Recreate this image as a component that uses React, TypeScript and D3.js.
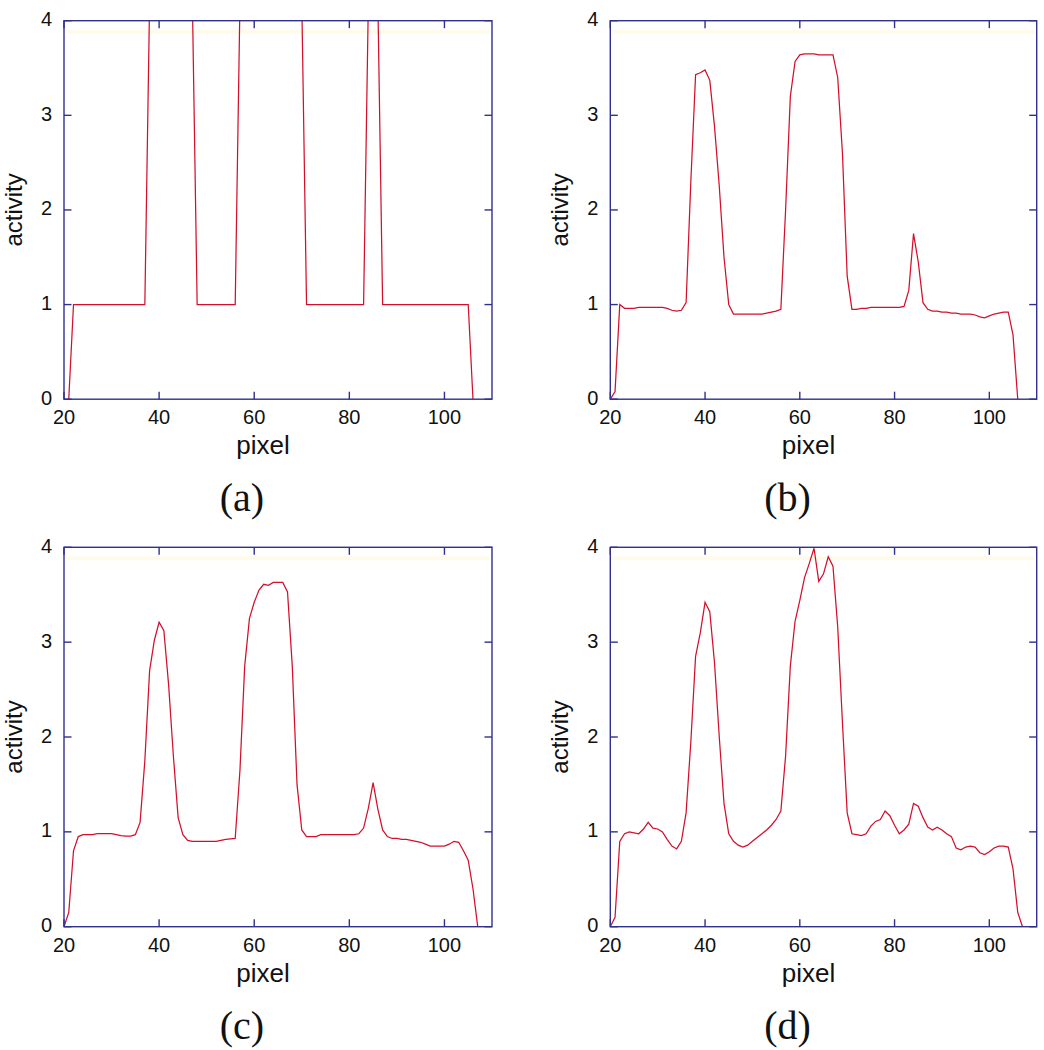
import * as d3 from 'd3';

// pixel index of the first sample of each profile
const startA = 21;
const startB = 20;
const startC = 20;
const startD = 20;

// (a) thresholded profile, peaks run off the top of the axes
const activityA = [
  0,
  1, 1, 1, 1, 1, 1, 1, 1, 1, 1, 1, 1, 1, 1, 1, 1,
  4.2, 4.2, 4.2, 4.2, 4.2, 4.2, 4.2, 4.2, 4.2, 4.2,
  1, 1, 1, 1, 1, 1, 1, 1, 1,
  4.2, 4.2, 4.2, 4.2, 4.2, 4.2, 4.2, 4.2, 4.2, 4.2, 4.2, 4.2, 4.2, 4.2,
  1, 1, 1, 1, 1, 1, 1, 1, 1, 1, 1, 1, 1,
  4.2, 4.2, 4.2,
  1, 1, 1, 1, 1, 1, 1, 1, 1, 1, 1, 1, 1, 1, 1, 1, 1, 1, 1,
  0,
];

const activityB = [
  0, 0.08, 1.0, 0.96, 0.96, 0.96, 0.97, 0.97, 0.97, 0.97,
  0.97, 0.97, 0.96, 0.94, 0.93, 0.94, 1.02, 2.3, 3.43, 3.45,
  3.48, 3.37, 2.88, 2.25, 1.5, 1.0, 0.9, 0.9, 0.9, 0.9,
  0.9, 0.9, 0.9, 0.91, 0.92, 0.93, 0.95, 2.0, 3.2, 3.57,
  3.64, 3.65, 3.65, 3.65, 3.64, 3.64, 3.64, 3.64, 3.4, 2.6,
  1.3, 0.95, 0.95, 0.96, 0.96, 0.97, 0.97, 0.97, 0.97, 0.97,
  0.97, 0.97, 0.98, 1.15, 1.75, 1.45, 1.02, 0.95, 0.93, 0.93,
  0.92, 0.92, 0.91, 0.91, 0.9, 0.9, 0.9, 0.89, 0.87, 0.86,
  0.88, 0.9, 0.91, 0.92, 0.92, 0.68, 0.0,
];

const activityC = [
  0, 0.15, 0.8, 0.95, 0.97, 0.97, 0.97, 0.98, 0.98, 0.98,
  0.98, 0.97, 0.96, 0.955, 0.955, 0.97, 1.1, 1.75, 2.7, 3.02,
  3.21, 3.12, 2.55, 1.8, 1.15, 0.97, 0.91, 0.9, 0.9, 0.9,
  0.9, 0.9, 0.9, 0.91, 0.92, 0.925, 0.93, 1.65, 2.75, 3.25,
  3.42, 3.55, 3.61, 3.6, 3.63, 3.63, 3.63, 3.53, 2.75, 1.5,
  1.02, 0.95, 0.95, 0.95, 0.97, 0.97, 0.97, 0.97, 0.97, 0.97,
  0.97, 0.97, 0.98, 1.04, 1.25, 1.52, 1.24, 1.02, 0.95, 0.93,
  0.93, 0.92, 0.92, 0.91, 0.9, 0.89, 0.87, 0.85, 0.85, 0.85,
  0.85, 0.87, 0.9, 0.89, 0.8, 0.7, 0.4, 0.0,
];

const activityD = [
  0, 0.1, 0.9, 0.98, 1.0, 0.99, 0.98, 1.03, 1.1, 1.04,
  1.03, 1.0, 0.92, 0.85, 0.82, 0.9, 1.2, 1.95, 2.85, 3.1,
  3.42, 3.32, 2.78, 2.0, 1.3, 0.98, 0.9, 0.86, 0.84, 0.86,
  0.9, 0.94, 0.98, 1.02, 1.07, 1.13, 1.22, 1.8, 2.75, 3.22,
  3.44, 3.68, 3.83, 3.99, 3.64, 3.72, 3.9, 3.8, 3.16, 2.15,
  1.2, 0.98, 0.97, 0.96, 0.98, 1.06, 1.11, 1.13, 1.22, 1.17,
  1.07, 0.98, 1.02, 1.08, 1.3, 1.27, 1.15, 1.05, 1.02, 1.05,
  1.02, 0.98, 0.95, 0.83, 0.81, 0.84, 0.85, 0.84, 0.78, 0.76,
  0.79, 0.83, 0.85, 0.85, 0.84, 0.61, 0.15, 0.0,
];

const pixelTicks = [20, 40, 60, 80, 100];
const activityTicks = [0, 1, 2, 3, 4];

const panels = [
  { id: 'a', caption: '(a)', start: startA, values: activityA, col: 0, row: 0 },
  { id: 'b', caption: '(b)', start: startB, values: activityB, col: 1, row: 0 },
  { id: 'c', caption: '(c)', start: startC, values: activityC, col: 0, row: 1 },
  { id: 'd', caption: '(d)', start: startD, values: activityD, col: 1, row: 1 },
];

const colX = [[64, 492], [610.3, 1036.7]];
const rowY = [[20.7, 399.2], [547.3, 926.7]];

const axisColor = '#30308f';
const lineColor = '#d3102c';
const sans = 'Liberation Sans, Arial, sans-serif';

function Panel({ p }) {
  const [x0, x1] = colX[p.col];
  const [y0, y1] = rowY[p.row];
  const x = d3.scaleLinear().domain([20, 110]).range([x0, x1]);
  const y = d3.scaleLinear().domain([0, 4]).range([y1, y0]);
  const line = d3.line<number>()
    .x((_, i) => x(p.start + i))
    .y((d) => y(d));
  const tick = 7.5;
  const cx = (x0 + x1) / 2;
  const cy = (y0 + y1) / 2;

  return (
    <g>
      <defs>
        <clipPath id={`clip-${p.id}`}>
          <rect x={x0} y={y0} width={x1 - x0} height={y1 - y0} />
        </clipPath>
      </defs>
      {/* faint yellow band just under the top border */}
      <rect x={x0 + 2} y={y0 + 9} width={x1 - x0 - 4} height={4} fill="#fffbea" />
      <path
        d={line(p.values) ?? ''}
        fill="none"
        stroke={lineColor}
        strokeWidth={1.25}
        clipPath={`url(#clip-${p.id})`}
      />
      <rect x={x0} y={y0} width={x1 - x0} height={y1 - y0} fill="none" stroke={axisColor} strokeWidth={1.4} />
      {pixelTicks.map((t) => (
        <g key={`x${t}`}>
          <line x1={x(t)} x2={x(t)} y1={y1} y2={y1 - tick} stroke={axisColor} strokeWidth={1.4} />
          <line x1={x(t)} x2={x(t)} y1={y0} y2={y0 + tick} stroke={axisColor} strokeWidth={1.4} />
          <text x={x(t)} y={y1 + 25} textAnchor="middle" fontFamily={sans} fontSize={20} fill="#111">
            {t}
          </text>
        </g>
      ))}
      {activityTicks.map((t) => (
        <g key={`y${t}`}>
          <line x1={x0} x2={x0 + tick} y1={y(t)} y2={y(t)} stroke={axisColor} strokeWidth={1.4} />
          <line x1={x1} x2={x1 - tick} y1={y(t)} y2={y(t)} stroke={axisColor} strokeWidth={1.4} />
          <text x={x0 - 12} y={y(t) - 1.5} dy="0.35em" textAnchor="end" fontFamily={sans} fontSize={20} fill="#111">
            {t}
          </text>
        </g>
      ))}
      <text x={cx - 15} y={y1 + 55} textAnchor="middle" fontFamily={sans} fontSize={26} fill="#111">
        pixel
      </text>
      <text
        transform={`translate(${x0 - 42},${cy}) rotate(-90)`}
        textAnchor="middle"
        fontFamily={sans}
        fontSize={24}
        fill="#111"
      >
        activity
      </text>
      <text x={cx - 36} y={y1 + 112} textAnchor="middle" fontFamily="Liberation Serif, serif" fontSize={40} fill="#111">
        {p.caption}
      </text>
    </g>
  );
}

export default function App() {
  return (
    <svg
      width={1044}
      height={1050}
      style={{ position: 'absolute', left: 0, top: 0, background: '#fff' }}
    >
      <rect width={1044} height={1050} fill="#fff" />
      {panels.map((p) => (
        <Panel key={p.id} p={p} />
      ))}
    </svg>
  );
}
